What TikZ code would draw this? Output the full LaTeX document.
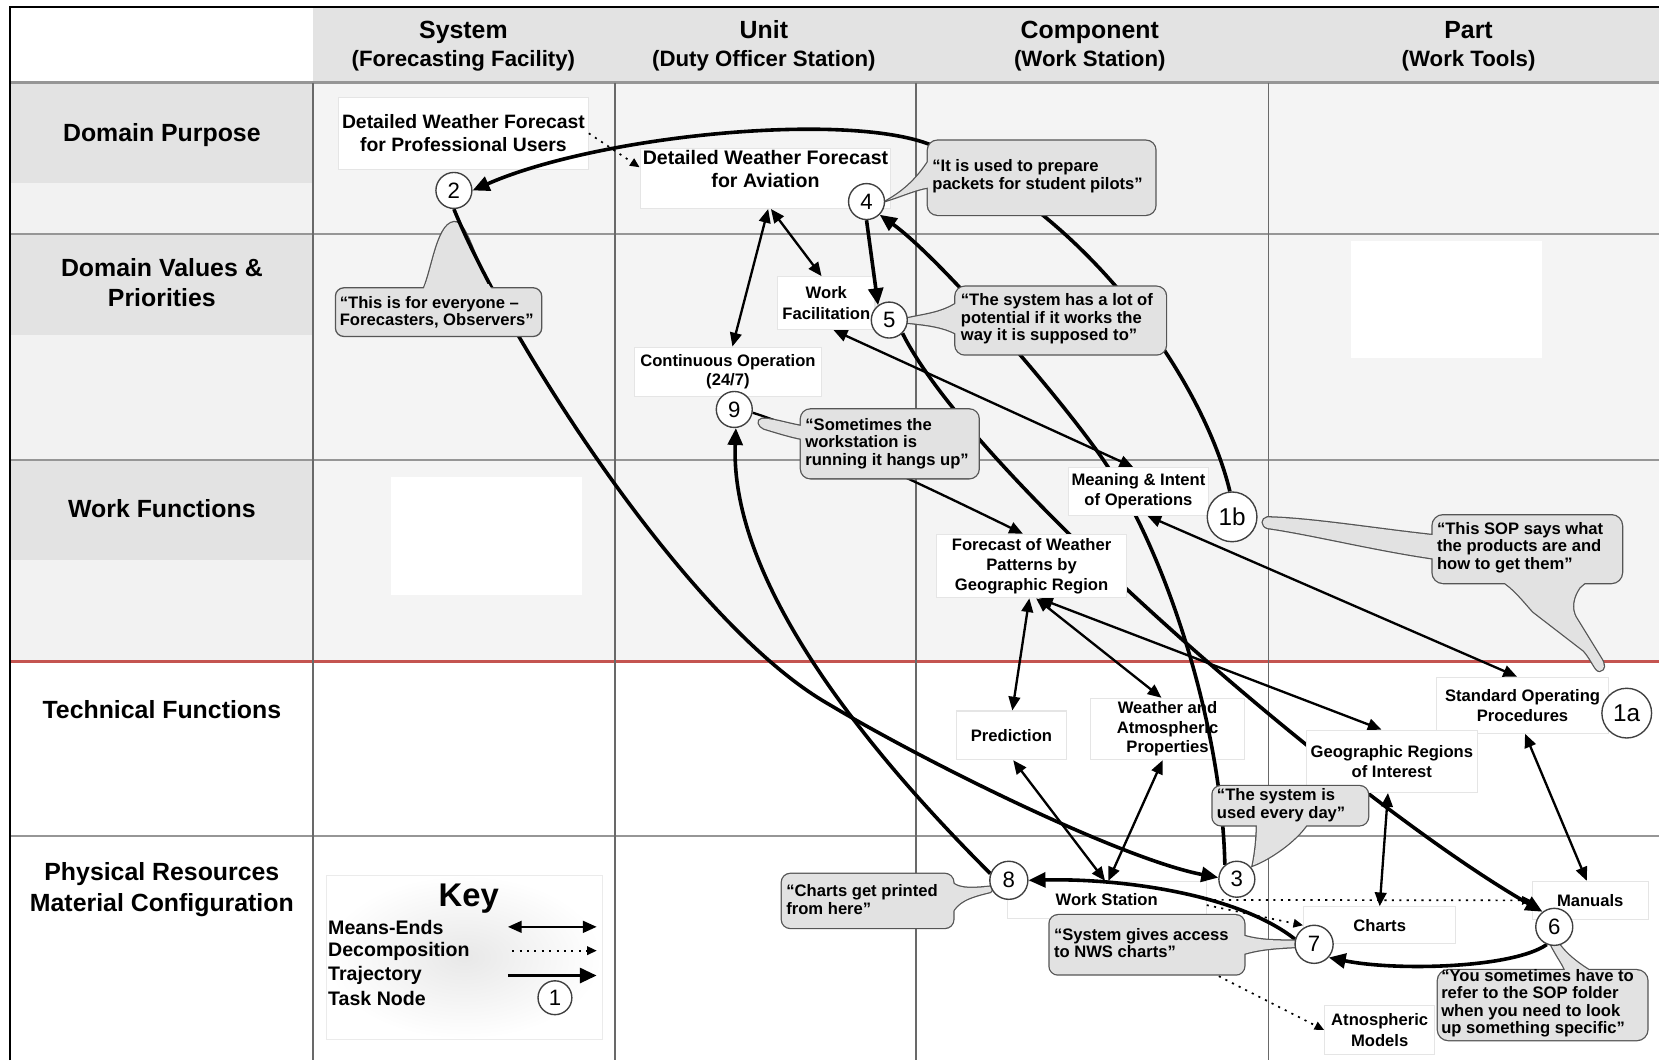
\documentclass[tikz,border=0pt]{standalone}
\usepackage{fontspec}
\setmainfont{Liberation Sans}
\usetikzlibrary{arrows.meta}
\pgfdeclarelayer{bg}
\pgfdeclarelayer{boxes}
\pgfdeclarelayer{upper}
\pgfdeclarelayer{bubbles}
\pgfdeclarelayer{marks}
\pgfsetlayers{bg,boxes,main,upper,bubbles,marks}

\definecolor{hdrgray}{RGB}{227,227,227}
\definecolor{cellgray}{RGB}{244,244,244}
\definecolor{lblgray}{RGB}{242,242,242}
\definecolor{gridline}{RGB}{150,150,150}
\definecolor{colline}{RGB}{105,105,105}
\definecolor{redline}{RGB}{196,84,80}
\definecolor{bubblefill}{RGB}{226,226,226}
\definecolor{bubbleedge}{RGB}{85,85,85}

% speech bubble: #1 = rounded box path, #2 = tail path
\newcommand\drawbubble[2]{%
  \path[draw=bubbleedge,line width=2.4pt] #1 #2;
  \fill[bubblefill] #1;
  \fill[bubblefill] #2;}

\tikzset{
  hdr/.style={font=\bfseries\fontsize{23.5}{27}\selectfont, inner sep=0pt, anchor=base},
  hdrsub/.style={font=\bfseries\fontsize{21}{25}\selectfont, inner sep=0pt, anchor=base},
  rowlbl/.style={font=\bfseries\fontsize{23.5}{29}\selectfont, align=center, inner sep=0pt},
  nbox/.style={draw=black!10, line width=1pt, fill=white, align=center, inner sep=0pt,
    font=\bfseries\fontsize{15.7}{19}\selectfont},
  bigbox/.style={nbox, font=\bfseries\fontsize{18.3}{21.5}\selectfont},
  btext/.style={anchor=west, align=left, inner sep=0pt, font=\bfseries\fontsize{15.7}{16.5}\selectfont},
  keytext/.style={anchor=west, inner sep=0pt, font=\bfseries\fontsize{18.5}{22}\selectfont},
  task/.style={circle, draw=black!75, line width=1.3pt, fill=white, inner sep=0pt,
    minimum size=34pt, font=\fontsize{21}{21}\selectfont},
  bigtask/.style={task, minimum size=47pt, font=\fontsize{23}{23}\selectfont},
  meansend/.style={line width=2.2pt, {Triangle[length=13pt,width=11pt]}-{Triangle[length=13pt,width=11pt]}},
  meline/.style={line width=2.2pt, -{Triangle[length=13pt,width=11pt]}},
  traj/.style={line width=3.4pt, -{Triangle[length=16pt,width=14pt]}},
  decomp/.style={line width=1.6pt, dash pattern=on 2pt off 5pt, -{Triangle[length=9pt,width=8pt]}},
}

\begin{document}
\begin{tikzpicture}[x=1pt,y=-1pt]
\useasboundingbox (0,0) rectangle (1568,1002);

% ---------- table ----------
\begin{pgfonlayer}{bg}
  \fill[white] (0,0) rectangle (1568,1002);
  \fill[cellgray] (296,78) rectangle (1568,625);
  \fill[lblgray] (10,78) rectangle (296,625);
  \fill[hdrgray] (296,7) rectangle (1568,78);
  \fill[hdrgray] (10,79) rectangle (296,173);
  \fill[hdrgray] (10,222) rectangle (296,317);
  \fill[hdrgray] (10,436) rectangle (296,529);
  \fill[white] (1277,228) rectangle (1457,338);
  \fill[white] (370,451) rectangle (550,562);
  \foreach \yy in {78,221,435,790}
    \draw[gridline, line width=2pt] (10,\yy) -- (1568,\yy);
  \draw[redline, line width=3.2pt] (10,625) -- (1568,625);
  \foreach \xx in {296,581,866,1199}
    \draw[colline, line width=1.5pt] (\xx,78) -- (\xx,1002);
  \draw[black, line width=2.6pt] (9.5,1002) -- (9.5,6.5) -- (1568,6.5);
\end{pgfonlayer}

% column headers
\node[hdr] (h-sys) at (438,36.4) {System};
\node[hdrsub] (h-sys2) at (438,62.5) {(Forecasting Facility)};
\node[hdr] (h-unit) at (722,36.4) {Unit};
\node[hdrsub] (h-unit2) at (722,62.5) {(Duty Officer Station)};
\node[hdr] (h-comp) at (1030,36.4) {Component};
\node[hdrsub] (h-comp2) at (1030,62.5) {(Work Station)};
\node[hdr] (h-part) at (1388,36.4) {Part};
\node[hdrsub] (h-part2) at (1388,62.5) {(Work Tools)};

% row labels
\node[rowlbl, anchor=base] (r-dp) at (153,133.4) {Domain Purpose};
\node[rowlbl] (r-dv) at (153,267) {Domain Values \&\\Priorities};
\node[rowlbl, anchor=base] (r-wf) at (153,489.4) {Work Functions};
\node[rowlbl, anchor=base] (r-tf) at (153,679.4) {Technical Functions};
\node[rowlbl] (r-pr) at (153,841) {Physical Resources\\Material Configuration};

% ---------- abstraction nodes ----------
\begin{pgfonlayer}{boxes}
  \node[bigbox, minimum width=236pt, minimum height=68pt] (dwfp) at (438,126)
    {Detailed Weather Forecast\\for Professional Users};
  \node[nbox, minimum width=237pt, minimum height=57pt] (dwfa) at (723.5,168.5) {};
  \node[font=\bfseries\fontsize{18.5}{22}\selectfont, align=center, inner sep=0pt] (dwfa-t)
    at (723.5,160) {Detailed Weather Forecast\\for Aviation};
  \node[nbox, minimum width=92pt, minimum height=50pt, font=\bfseries\fontsize{15.7}{20}\selectfont]
    (wf) at (781,286.5) {Work\\Facilitation};
  \node[nbox, minimum width=177pt, minimum height=47pt, font=\bfseries\fontsize{15.7}{18}\selectfont]
    (cont) at (688,351.5) {Continuous Operation\\(24/7)};
  \node[nbox, minimum width=104pt, minimum height=46pt] (pred) at (956,695) {Prediction};
  \node[nbox, minimum width=145pt, minimum height=58pt, font=\bfseries\fontsize{15.7}{18.5}\selectfont]
    (wap) at (1103.5,689) {Weather and\\Atmospheric\\Properties};
  \node[nbox, minimum width=162pt, minimum height=53pt] (sop) at (1439,666.5)
    {Standard Operating\\Procedures};
  \node[nbox, minimum width=188pt, minimum height=35pt] (ws) at (1046,850.5) {Work Station};
  \node[nbox, minimum width=144pt, minimum height=35pt] (charts) at (1304,874.5) {Charts};
  \node[nbox, minimum width=110pt, minimum height=36pt] (man) at (1503,851) {Manuals};
  \node[nbox, minimum width=104pt, minimum height=47pt] (atm) at (1304,973.5) {Atnospheric\\Models};

  % key
  \shade[inner color=black!9, outer color=white, draw=black!8] (308,827) rectangle (569,982);
  \node[font=\bfseries\fontsize{31}{31}\selectfont, inner sep=0pt] (key-t) at (443,849) {Key};
  \node[keytext] (key-me) at (310,877) {Means-Ends};
  \node[keytext] (key-dc) at (310,899.5) {Decomposition};
  \node[keytext] (key-tr) at (310,922) {Trajectory};
  \node[keytext] (key-tn) at (310,944) {Task Node};

  % tail of the bubble for node 2 (lies under the trajectory)
  \path[draw=bubbleedge,line width=2.4pt, fill=bubblefill]
    (398,278) .. controls (408,262) and (412,212) .. (429,210)
      .. controls (442,208) and (450,255) .. (468,278) -- cycle;
  \fill[bubblefill] (398,278) .. controls (408,262) and (412,212) .. (429,210)
      .. controls (442,208) and (450,255) .. (468,278) -- cycle;
\end{pgfonlayer}

\begin{pgfonlayer}{upper}
  \node[nbox, minimum width=132pt, minimum height=45pt] (mean) at (1076,464.5)
    {Meaning \& Intent\\of Operations};
  \node[nbox, minimum width=180pt, minimum height=60pt] (fc) at (975,535)
    {Forecast of Weather\\Patterns by\\Geographic Region};
  \node[nbox, minimum width=161pt, minimum height=59pt] (geo) at (1315.5,719.5)
    {Geographic Regions\\of Interest};
\end{pgfonlayer}

% ---------- task nodes ----------
\begin{pgfonlayer}{marks}
  \node[bigtask] (c1a) at (1537.5,674) {1a};
  \node[bigtask] (c1b) at (1164.5,488.5) {1b};
  \node[task] (c2) at (429,180) {2};
  \node[task] (c3) at (1169,831) {3};
  \node[task] (c4) at (819,190.5) {4};
  \node[task] (c5) at (840.5,302.5) {5};
  \node[task, minimum size=35pt] (c6) at (1469,876) {6};
  \node[task, minimum size=36pt] (c7) at (1242,892.5) {7};
  \node[task, minimum size=36pt] (c8) at (953.5,832) {8};
  \node[task] (c9) at (694,387) {9};
  \node[task, minimum size=32pt] (ck) at (524.5,943) {1};
\end{pgfonlayer}

% ---------- means-ends links ----------
\draw[meansend] (dwfa.-85) -- (cont.80);
\draw[meansend] (dwfa.-80) -- (wf.100);
\draw[meansend] (wf.-75) -- (mean.102);
\draw[meansend] (fc.-94) -- (pred.88);
\draw[meansend] (fc.-82) -- (wap.101);
\draw[meansend] (fc.-77) -- (geo.108);
\draw[meansend] (mean.-70) -- (sop.101);
\draw[meansend] (pred.-86) -- (ws.95);
\draw[meansend] (wap.-99) -- (ws.85);
\draw[meansend] (geo.-97) -- (charts.90);
\draw[meansend] (sop.-85) -- (man.100);
\draw[meline] (c9.-10) .. controls (760,405) and (880,462) .. (fc.105);

% ---------- decomposition links ----------
\draw[decomp] (dwfp.east) -- (dwfa.175);
\draw[decomp] (ws.east) -- (man.west);
\draw[decomp] (ws.-3) -- (charts.west);
\draw[decomp] (ws.south) -- (atm.west);

% ---------- trajectory ----------
\draw[traj] (c1b.95) .. controls (1140,370) and (1040,210) .. (880,137)
  .. controls (800,105) and (565,128) .. (c2.east);
\draw[traj] (c2.south) .. controls (478,318) and (650,590) .. (784,666)
  .. controls (874,720) and (1060,812) .. (c3.175);
\draw[traj] (c3.130) .. controls (1155,690) and (1105,530) .. (1047,441)
  .. controls (1012,387) and (890,245) .. (c4.-45);
\draw[traj] (c4.south) -- (c5.127);
\draw[traj] (c5.-45) .. controls (920,450) and (1280,760) .. (c6.128);
\draw[traj] (c6.-113) .. controls (1430,915) and (1320,918) .. (c7.-42);
\draw[traj] (c7.165) .. controls (1170,845) and (1060,830) .. (c8.east);
\draw[traj] (c8.160) .. controls (800,690) and (690,540) .. (c9.-85);

% key samples
\coordinate (kme1) at (480,876);   \coordinate (kme2) at (564,876);
\coordinate (kdc1) at (484,898.5); \coordinate (kdc2) at (564,898.5);
\coordinate (ktr1) at (480,922);   \coordinate (ktr2) at (564,922);
\draw[meansend] (kme1) -- (kme2);
\draw[decomp] (kdc1) -- (kdc2);
\draw[traj] (ktr1) -- (ktr2);

% ---------- speech bubbles ----------
\begin{pgfonlayer}{bubbles}
  % body of the bubble for node 2, joined to its tail
  \path[draw=bubbleedge,line width=1.2pt, fill=bubblefill, rounded corners=8pt]
    (317,272) rectangle (512,318);
  \begin{scope}
    \clip (390,269) rectangle (480,280);
    \fill[bubblefill] (398,278) .. controls (408,262) and (412,212) .. (429,210)
      .. controls (442,208) and (450,255) .. (468,278) -- cycle;
  \end{scope}
  \node[btext] (t2) at (321,295) {“This is for everyone –\\Forecasters, Observers”};

  \drawbubble{[rounded corners=9pt] (877,133) rectangle (1092,203)}
    {[sharp corners] (879,150) .. controls (868,168) and (855,180) .. (839.5,189)
      .. controls (855,184) and (868,178) .. (879,177) -- cycle}
  \node[btext] (t4) at (881,166.5) {“It is used to prepare\\packets for student pilots”};

  \drawbubble{[rounded corners=9pt] (903,271) rectangle (1102,335)}
    {[sharp corners] (905,286) .. controls (890,296) and (875,297) .. (857,301)
      .. controls (856,303) and (856,304) .. (858,305)
      .. controls (875,307) and (890,308) .. (905,316) -- cycle}
  \node[btext] (t5) at (908,301.5) {“The system has a lot of\\potential if it works the\\way it is supposed to”};

  \drawbubble{[rounded corners=9pt] (757,387) rectangle (925,452)}
    {[sharp corners] (759,403) .. controls (742,400) and (728,395) .. (720,396)
      .. controls (715,397) and (717,403) .. (722,405)
      .. controls (735,409) and (748,413) .. (759,415) -- cycle}
  \node[btext] (t9) at (761,419) {“Sometimes the\\workstation is\\running it hangs up”};

  \drawbubble{[rounded corners=10pt] (1354,487) rectangle (1533,551)}
    {[sharp corners] (1356,506) .. controls (1300,500) and (1240,490) .. (1198,489)
      .. controls (1192,490) and (1192,497) .. (1198,499)
      .. controls (1240,505) and (1300,520) .. (1356,528) -- cycle
     (1419,549) .. controls (1430,555) and (1440,568) .. (1449,578) -- (1497,615)
      .. controls (1505,624) and (1508,635) .. (1512,634)
      .. controls (1517,633) and (1517,628) .. (1513,622) -- (1489,583)
      .. controls (1485,575) and (1486,565) .. (1493,555) -- (1500,549) -- cycle}
  \node[btext] (t1b) at (1358,517.5) {“This SOP says what\\the products are and\\how to get them”};

  \drawbubble{[rounded corners=8pt] (1146,743) rectangle (1293,780)}
    {[sharp corners] (1188,778) .. controls (1188,795) and (1186,808) .. (1184,818)
      .. controls (1200,812) and (1225,795) .. (1236,778) -- cycle}
  \node[btext] (t3) at (1150,761) {“The system is\\used every day”};

  \drawbubble{[rounded corners=8pt] (739,826) rectangle (901,877)}
    {[sharp corners] (899,833) .. controls (903,838) and (910,841) .. (936,838)
      .. controls (938,840) and (938,842) .. (936,843)
      .. controls (915,848) and (905,852) .. (899,864) -- cycle}
  \node[btext] (t8) at (743,850) {“Charts get printed\\from here”};

  \drawbubble{[rounded corners=8pt] (992,865) rectangle (1176,921)}
    {[sharp corners] (1174,884) .. controls (1190,889) and (1205,889) .. (1226,889)
      .. controls (1229,891) and (1229,893) .. (1226,895)
      .. controls (1205,896) and (1190,897) .. (1174,902) -- cycle}
  \node[btext] (t7) at (996,891.5) {“System gives access\\to NWS charts”};

  \drawbubble{[rounded corners=10pt] (1359,917) rectangle (1557,983)}
    {[sharp corners] (1466,893) .. controls (1472,905) and (1478,912) .. (1480,919)
      -- (1505,919) .. controls (1490,910) and (1478,900) .. (1472,890) -- cycle}
  \node[btext] (t6) at (1362,948) {“You sometimes have to\\refer to the SOP folder\\when you need to look\\up something specific”};
\end{pgfonlayer}

\end{tikzpicture}
\end{document}
